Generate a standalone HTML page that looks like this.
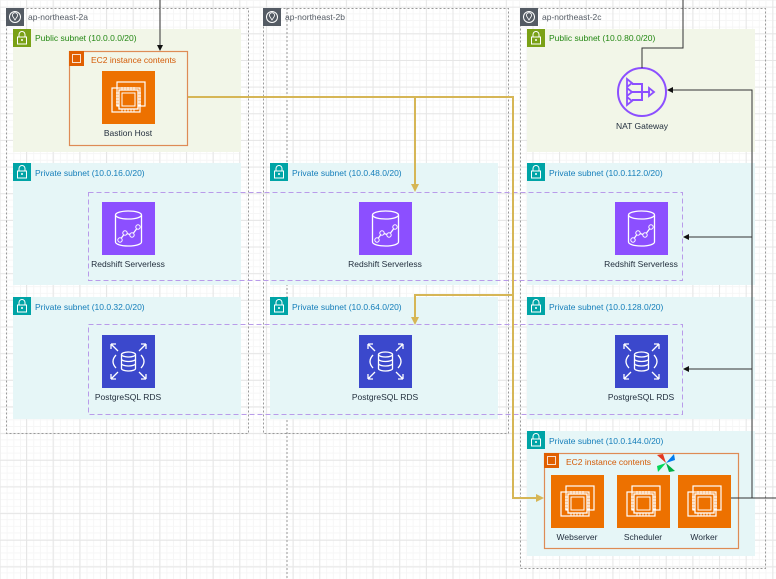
<!DOCTYPE html>
<html><head><meta charset="utf-8"><style>
html,body{margin:0;padding:0;}
body{width:776px;height:579px;overflow:hidden;position:relative;font-family:"Liberation Sans",sans-serif;
background-color:#fff;
background-image:linear-gradient(#e6e6e6 1px,transparent 1px),linear-gradient(90deg,#e6e6e6 1px,transparent 1px),linear-gradient(#f6f6f6 1px,transparent 1px),linear-gradient(90deg,#f6f6f6 1px,transparent 1px);
background-size:26.67px 26.67px,26.67px 26.67px,6.667px 6.667px,6.667px 6.667px;
background-position:0 6.67px,-0.67px 0,0 0,0 0;}
svg{position:absolute;left:0;top:0}
text{font-family:"Liberation Sans",sans-serif;font-size:8.5px}
</style></head><body>
<svg width="776" height="579" viewBox="0 0 776 579">
<defs>
<g id="az"><rect width="18" height="18" fill="#545b64"/><circle cx="9" cy="9" r="5.5" fill="none" stroke="#fff" stroke-width="1"/><path d="M9 12 L6.5 8 A2.6 2.6 0 1 1 11.5 8 Z" fill="none" stroke="#fff" stroke-width="0.8"/></g>
<g id="lock"><path d="M6 8 V5.5 A3 3 0 0 1 12 5.5 V8" fill="none" stroke="#fff" stroke-width="1"/><rect x="4.5" y="8" width="9" height="7" fill="none" stroke="#fff" stroke-width="1"/><circle cx="9" cy="11" r="1" fill="#fff"/></g>
<g id="chip"><rect x="15" y="11" width="28" height="24" fill="none" stroke="#fff" stroke-width="1.2"/><rect x="10" y="17" width="28" height="24" fill="none" stroke="#fff" stroke-width="1.2"/><rect x="17" y="19" width="19" height="19" fill="#ed7100" stroke="#fff" stroke-width="1.3"/><rect x="20" y="22" width="13" height="13" fill="none" stroke="#fff" stroke-width="1"/><path d="M20 16v3M23 16v3M26 16v3M29 16v3M32 16v3M20 38v3M23 38v3M26 38v3M29 38v3M32 38v3M14 22h3M14 25h3M14 28h3M14 31h3M14 34h3M36 22h3M36 25h3M36 28h3M36 31h3M36 34h3" stroke="#fff" stroke-width="0.9"/></g>
<g id="rs"><rect width="53" height="53" fill="#8c4fff"/><ellipse cx="26.5" cy="13" rx="13" ry="4" fill="none" stroke="#fff" stroke-width="1.3"/><path d="M13.5 13 V40 A13 4 0 0 0 39.5 40 V13" fill="none" stroke="#fff" stroke-width="1.3"/><path d="M18 38 L23 31 L30 33 L36 25" fill="none" stroke="#fff" stroke-width="1.2"/><circle cx="18" cy="38" r="2.2" fill="#8c4fff" stroke="#fff"/><circle cx="23" cy="31" r="2.2" fill="#8c4fff" stroke="#fff"/><circle cx="30" cy="33" r="2.2" fill="#8c4fff" stroke="#fff"/><circle cx="36" cy="25" r="2.2" fill="#8c4fff" stroke="#fff"/></g>
<g id="rds"><rect width="53" height="53" fill="#3b48cc"/><g stroke="#fff" stroke-width="1.3" fill="none"><path d="M9 9l7 7M9 9h5M9 9v5M44 9l-7 7M44 9h-5M44 9v5M9 44l7-7M9 44h5M9 44v-5M44 44l-7-7M44 44h-5M44 44v-5"/><ellipse cx="26.5" cy="19.5" rx="7" ry="2.5"/><path d="M19.5 19.5v14a7 2.5 0 0 0 14 0v-14M19.5 24a7 2.5 0 0 0 14 0M19.5 28.5a7 2.5 0 0 0 14 0"/><path d="M14 20 Q8 26.5 14 33M39 20 Q45 26.5 39 33"/></g></g>
</defs>
<g fill="none" stroke="#9a9a9a" stroke-dasharray="2,2" stroke-width="1">
<rect x="6.5" y="8.5" width="242" height="425"/>
<rect x="263.5" y="8.5" width="245" height="425"/>
<rect x="520.5" y="8.5" width="245" height="560"/>
<line x1="287" y1="8" x2="287" y2="579"/>
</g>
<use href="#az" x="6" y="8"/><use href="#az" x="263" y="8"/><use href="#az" x="520" y="8"/>
<text x="28" y="20" fill="#545b64">ap-northeast-2a</text>
<text x="285" y="20" fill="#545b64">ap-northeast-2b</text>
<text x="542" y="20" fill="#545b64">ap-northeast-2c</text>
<g fill="#f2f6e8"><rect x="13" y="29" width="228" height="123"/><rect x="527" y="29" width="228" height="123"/></g>
<g fill="#e6f6f7">
<rect x="13" y="163" width="228" height="122"/><rect x="270" y="163" width="228" height="122"/><rect x="527" y="163" width="228" height="122"/>
<rect x="13" y="297" width="228" height="122"/><rect x="270" y="297" width="228" height="122"/><rect x="527" y="297" width="228" height="122"/>
<rect x="527" y="431" width="228" height="125"/>
</g>
<g fill="#7aa116"><rect x="13" y="29" width="18" height="18"/><rect x="527" y="29" width="18" height="18"/></g>
<g fill="#00a4a6">
<rect x="13" y="163" width="18" height="18"/><rect x="270" y="163" width="18" height="18"/><rect x="527" y="163" width="18" height="18"/>
<rect x="13" y="297" width="18" height="18"/><rect x="270" y="297" width="18" height="18"/><rect x="527" y="297" width="18" height="18"/>
<rect x="527" y="431" width="18" height="18"/>
</g>
<use href="#lock" x="13" y="29"/><use href="#lock" x="527" y="29"/>
<use href="#lock" x="13" y="163"/><use href="#lock" x="270" y="163"/><use href="#lock" x="527" y="163"/>
<use href="#lock" x="13" y="297"/><use href="#lock" x="270" y="297"/><use href="#lock" x="527" y="297"/>
<use href="#lock" x="527" y="431"/>
<g fill="#248814"><text x="35" y="41">Public subnet (10.0.0.0/20)</text><text x="549" y="41">Public subnet (10.0.80.0/20)</text></g>
<g fill="#147eba">
<text x="35" y="176">Private subnet (10.0.16.0/20)</text><text x="292" y="176">Private subnet (10.0.48.0/20)</text><text x="549" y="176">Private subnet (10.0.112.0/20)</text>
<text x="35" y="310">Private subnet (10.0.32.0/20)</text><text x="292" y="310">Private subnet (10.0.64.0/20)</text><text x="549" y="310">Private subnet (10.0.128.0/20)</text>
<text x="549" y="444">Private subnet (10.0.144.0/20)</text>
</g>
<g fill="none" stroke="#b99bea" stroke-dasharray="5,3" stroke-width="1">
<rect x="88.5" y="192.5" width="594" height="88"/>
<rect x="88.5" y="324.5" width="594" height="90"/>
</g>
<g fill="none" stroke="#de8b55" stroke-width="1.2"><rect x="69.5" y="51.5" width="118" height="94"/><rect x="544.5" y="453.5" width="194" height="95"/></g>
<rect x="69" y="51" width="15" height="15" fill="#e05f00"/><rect x="72.5" y="54.5" width="8" height="8" fill="none" stroke="#fff" stroke-width="0.8"/>
<rect x="544" y="453" width="15" height="15" fill="#e05f00"/><rect x="547.5" y="456.5" width="8" height="8" fill="none" stroke="#fff" stroke-width="0.8"/>
<g fill="#d45b07"><text x="91" y="63">EC2 instance contents</text><text x="566" y="465">EC2 instance contents</text></g>
<g transform="translate(666,463)"><path d="M0 0 L-9 -8 L-3 -9 Z" fill="#e43921"/><path d="M0 0 L8 -9 L9 -3 Z" fill="#017cee"/><path d="M0 0 L9 8 L3 9 Z" fill="#00ad46"/><path d="M0 0 L-8 9 L-9 3 Z" fill="#04d659"/></g>
<rect x="102" y="71" width="53" height="53" fill="#ed7100"/><use href="#chip" x="102" y="71"/>
<rect x="551" y="475" width="53" height="53" fill="#ed7100"/><use href="#chip" x="551" y="475"/>
<rect x="617" y="475" width="53" height="53" fill="#ed7100"/><use href="#chip" x="617" y="475"/>
<rect x="678" y="475" width="53" height="53" fill="#ed7100"/><use href="#chip" x="678" y="475"/>
<g fill="#232f3e" text-anchor="middle">
<text x="128" y="136">Bastion Host</text>
<text x="577" y="540">Webserver</text><text x="643" y="540">Scheduler</text><text x="704" y="540">Worker</text>
<text x="128" y="267">Redshift Serverless</text><text x="385" y="267">Redshift Serverless</text><text x="641" y="267">Redshift Serverless</text>
<text x="128" y="400">PostgreSQL RDS</text><text x="385" y="400">PostgreSQL RDS</text><text x="641" y="400">PostgreSQL RDS</text>
<text x="642" y="129">NAT Gateway</text>
</g>
<use href="#rs" x="102" y="202"/><use href="#rs" x="359" y="202"/><use href="#rs" x="615" y="202"/>
<use href="#rds" x="102" y="335"/><use href="#rds" x="359" y="335"/><use href="#rds" x="615" y="335"/>
<g stroke="#8c4fff" stroke-width="2" fill="none"><circle cx="642" cy="92" r="24"/><path d="M632 84h10v16h-10M632 92h18"/></g>
<g fill="none" stroke="#8c4fff" stroke-width="1.8"><path d="M627 79l5 4-5 4zM627 88l5 4-5 4zM627 97l5 4-5 4zM649 88l5 4-5 4z"/></g>
<g fill="none" stroke="#d6b656" stroke-width="2"><path d="M188 97H513V498H538"/><path d="M415 97V184"/><path d="M513 295H415V317"/></g>
<g fill="#d6b656"><path d="M415 192l-4-8h8z"/><path d="M415 325l-4-8h8z"/><path d="M544 498l-8-4v8z"/></g>
<g fill="none" stroke="#333" stroke-width="1"><path d="M160 0V45"/><path d="M683 0V48H642V68"/><path d="M731 498H776"/><path d="M752 498V90H673"/><path d="M752 237H689"/><path d="M752 369H689"/></g>
<g fill="#111"><path d="M160 51l-3-6h6z"/><path d="M667 90l6-3v6z"/><path d="M683 237l6-3v6z"/><path d="M683 369l6-3v6z"/></g>
</svg>
</body></html>
